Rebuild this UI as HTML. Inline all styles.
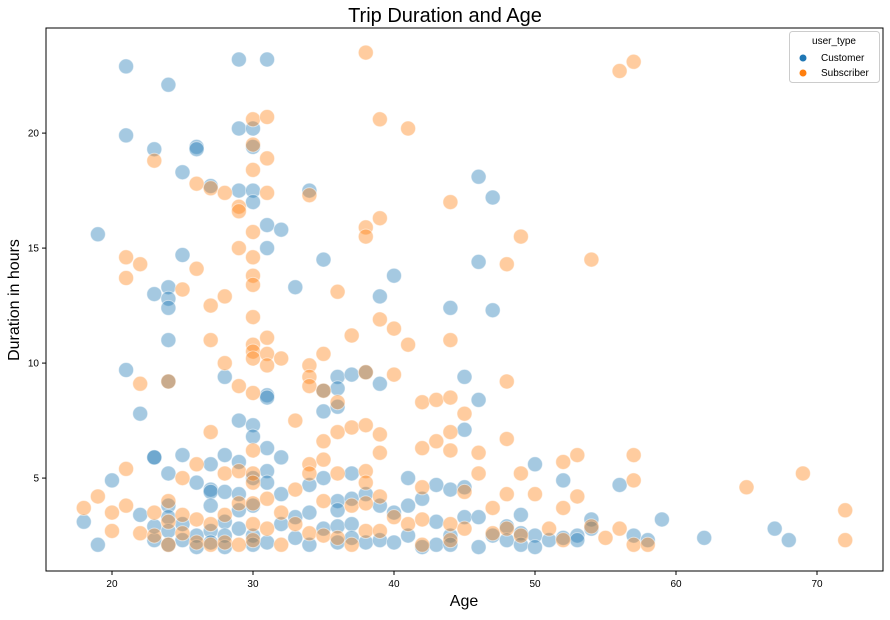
<!DOCTYPE html>
<html><head><meta charset="utf-8"><style>
body{margin:0;background:#fff;font-family:"Liberation Sans",sans-serif}
svg text{font-family:"Liberation Sans",sans-serif}
</style></head><body>
<svg id="chart" width="890" height="615" xmlns="http://www.w3.org/2000/svg">
<text x="445" y="22" text-anchor="middle" font-size="20">Trip Duration and Age</text>
<text x="464" y="606" text-anchor="middle" font-size="16">Age</text>
<text transform="translate(19,300) rotate(-90)" text-anchor="middle" font-size="16">Duration in hours</text>
<g id="ticks"></g>
<g id="marks"></g>
<rect x="46" y="28" width="837" height="543" fill="none" stroke="#000" stroke-width="1"/>
<g>
<rect x="789.5" y="31.5" width="90" height="51" rx="3" fill="#fff" fill-opacity="0.8" stroke="#ccc"/>
<text x="834" y="44" text-anchor="middle" font-size="10">user_type</text>
<g><circle cx="803" y="0" cy="58" r="3.5" fill="#1f77b4"/><text x="821" y="61" font-size="10">Customer</text></g>
<g><circle cx="803" cy="73" r="3.5" fill="#ff7f0e"/><text x="821" y="76" font-size="10">Subscriber</text></g>
</g>
</svg>
<script>
const xTicks=[20,30,40,50,60,70];
const yTicks=[5,10,15,20];
const customerAge=[18,19,19,20,21,21,21,22,22,23,23,23,23,23,23,24,24,24,24,24,24,24,24,24,24,24,25,25,25,25,25,26,26,26,26,26,27,27,27,27,27,27,27,28,28,28,28,28,28,29,29,29,29,29,29,29,29,30,30,30,30,30,30,30,30,30,30,31,31,31,31,31,31,31,31,31,32,32,32,32,33,33,33,34,34,34,34,35,35,35,35,35,36,36,36,36,36,36,36,37,37,37,37,37,38,38,38,39,39,39,39,40,40,40,41,41,41,42,42,43,43,43,44,44,44,44,45,45,45,45,46,46,46,46,46,47,47,47,48,48,49,49,49,50,50,50,51,52,52,53,53,54,54,56,57,58,59,62,67,68];
const customerHours=[3.1,2.1,15.6,4.9,22.9,19.9,9.7,7.8,3.4,19.3,13.0,5.9,5.9,2.3,2.9,22.1,13.3,12.8,12.4,11.0,9.2,5.2,3.8,3.3,2.7,2.1,18.3,14.7,6.0,3.0,2.3,19.4,19.3,4.8,2.5,2.0,17.7,5.6,4.5,4.4,3.8,2.7,2.2,9.4,6.0,4.4,3.1,2.5,2.0,23.2,20.2,17.5,7.5,5.7,4.3,3.6,2.8,20.2,19.4,17.5,17.0,7.3,6.8,5.0,3.8,2.5,2.1,23.2,16.0,15.0,8.6,8.5,6.3,5.3,4.8,2.2,15.8,5.9,4.3,3.0,13.3,3.3,2.4,17.5,4.7,3.5,2.1,14.5,7.9,8.8,5.0,2.8,9.4,8.9,8.1,4.0,3.6,2.9,2.2,9.5,4.1,5.2,3.0,2.4,9.6,4.3,2.2,12.9,9.1,3.8,2.3,13.8,3.5,2.2,5.0,3.8,2.5,4.1,2.0,4.7,3.1,2.1,12.4,4.5,2.5,2.1,9.4,7.1,4.6,3.3,18.1,14.4,8.4,3.3,2.0,17.2,12.3,2.5,2.9,2.3,3.4,2.6,2.1,5.6,2.5,2.0,2.3,4.9,2.4,2.5,2.3,3.2,2.8,4.7,2.5,2.3,3.2,2.4,2.8,2.3];
const subscriberAge=[18,19,20,20,21,21,21,21,22,22,22,23,23,23,24,24,24,24,25,25,25,25,26,26,26,26,26,27,27,27,27,27,27,28,28,28,28,28,28,29,29,29,29,29,29,29,30,30,30,30,30,30,30,30,30,30,30,30,30,30,30,30,30,30,31,31,31,31,31,31,31,31,32,32,32,33,33,33,34,34,34,34,34,34,34,35,35,35,35,35,35,36,36,36,36,36,37,37,37,37,38,38,38,38,38,38,38,38,38,39,39,39,39,39,39,39,40,40,40,41,41,41,42,42,42,42,42,43,43,44,44,44,44,44,44,44,45,45,45,46,46,47,47,48,48,48,48,48,49,49,49,50,51,52,52,52,53,53,54,54,55,56,56,57,57,57,57,58,65,69,72,72];
const subscriberHours=[3.7,4.2,3.5,2.7,14.6,13.7,5.4,3.8,14.3,9.1,2.6,18.8,3.5,2.5,9.2,4.0,3.1,2.1,13.2,5.0,3.4,2.6,17.8,14.1,5.6,3.2,2.2,17.6,12.5,11.0,7.0,3.0,2.1,17.4,12.9,10.0,5.2,3.4,2.2,16.8,16.6,15.0,9.0,5.3,3.9,2.1,20.6,19.5,18.4,15.7,14.6,13.8,13.4,12.0,10.8,10.5,10.2,8.7,6.2,5.2,4.8,3.9,3.0,2.3,20.7,18.9,17.4,11.1,10.4,9.9,4.1,2.8,10.2,3.5,2.1,7.5,4.5,3.0,17.3,9.9,9.4,9.0,5.6,5.2,2.6,10.4,8.8,6.6,5.8,4.0,2.5,13.1,8.3,7.0,5.2,2.4,11.2,7.2,3.8,2.1,23.5,15.9,15.5,9.6,7.3,5.3,4.8,3.9,2.7,20.6,16.3,11.9,6.9,6.1,4.2,2.7,11.5,9.5,3.3,20.2,10.8,3.0,8.3,6.3,4.6,3.2,2.1,8.4,6.6,17.0,11.0,8.5,7.0,6.2,3.0,2.3,7.8,4.4,2.8,6.1,5.2,3.7,2.6,14.3,9.2,6.7,4.3,2.8,15.5,5.2,2.5,4.3,2.8,5.7,3.7,2.3,6.0,4.2,14.5,2.9,2.4,22.7,2.8,23.1,6.0,4.9,2.1,2.1,4.6,5.2,3.6,2.3];
const NS="http://www.w3.org/2000/svg";
const X0=15.32,X1=74.68,Y0=0.96,Y1=24.57,L=46,R=883,T=28,B=571;
function sx(v){return L+(v-X0)/(X1-X0)*(R-L);}
function sy(v){return B-(v-Y0)/(Y1-Y0)*(B-T);}
const tg=document.getElementById('ticks');
xTicks.forEach(t=>{
 const l=document.createElementNS(NS,'line');
 l.setAttribute('x1',sx(t));l.setAttribute('x2',sx(t));l.setAttribute('y1',B);l.setAttribute('y2',B+4);l.setAttribute('stroke','#000');
 
 
 tg.appendChild(l);
 const s=document.createElementNS(NS,'text');
 s.setAttribute('x',sx(t));s.setAttribute('y',B+16);s.setAttribute('text-anchor','middle');s.setAttribute('font-size','10');s.textContent=t;
 
 
 tg.appendChild(s);
});
yTicks.forEach(t=>{
 const l=document.createElementNS(NS,'line');
 l.setAttribute('x1',L-4);l.setAttribute('x2',L);l.setAttribute('y1',sy(t));l.setAttribute('y2',sy(t));l.setAttribute('stroke','#000');
 
 
 tg.appendChild(l);
 const s=document.createElementNS(NS,'text');
 s.setAttribute('x',L-7);s.setAttribute('y',sy(t)+3.5);s.setAttribute('text-anchor','end');s.setAttribute('font-size','10');s.textContent=t;
 
 
 tg.appendChild(s);
});
const mg=document.getElementById('marks');
function draw(ages,hours,color,name){
 ages.forEach((a,i)=>{
  const c=document.createElementNS(NS,'circle');
  c.setAttribute('cx',sx(a));c.setAttribute('cy',sy(hours[i]));c.setAttribute('r',7.5);
  c.setAttribute('fill',color);c.setAttribute('fill-opacity','0.4');
  c.setAttribute('stroke','#fff');c.setAttribute('stroke-opacity','0.5');c.setAttribute('stroke-width','1');
  
  
  mg.appendChild(c);
 });
}
draw(customerAge,customerHours,'#1f77b4','customer-point');
draw(subscriberAge,subscriberHours,'#ff7f0e','subscriber-point');
</script>
</body></html>
